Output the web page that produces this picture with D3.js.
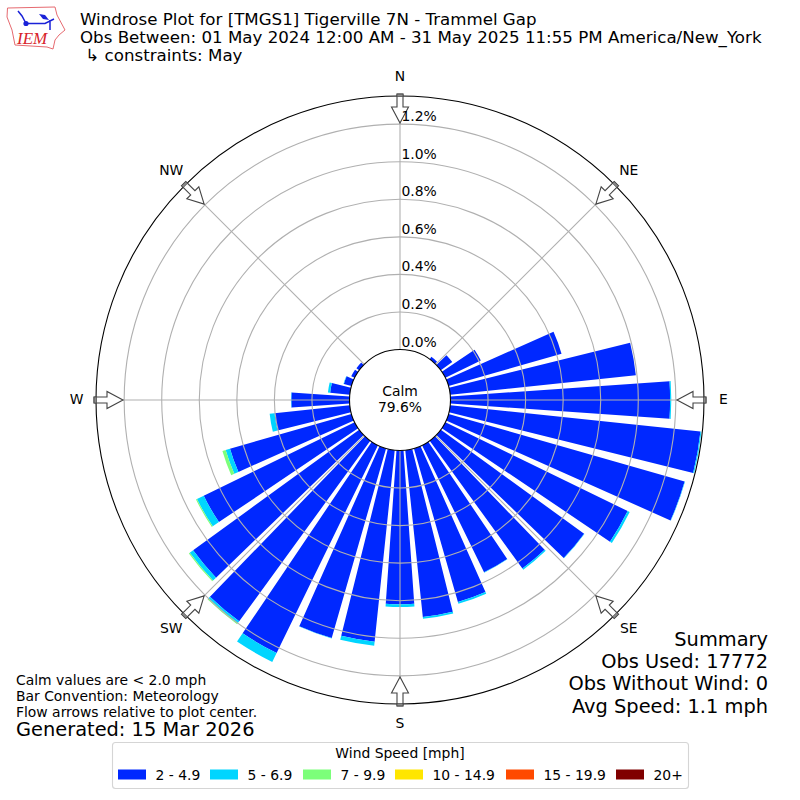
<!DOCTYPE html>
<html>
<head>
<meta charset="utf-8">
<script src="https://cdn.jsdelivr.net/npm/d3@7"></script>
<style>
  html, body { margin: 0; padding: 0; background: #fff; }
  text { font-family: "DejaVu Sans", sans-serif; fill: #000; }
</style>
</head>
<body>
<div id="wrapper"></div>
<script>
// wind direction in degrees, one bar every 10 degrees
const directions = [10, 20, 30, 40, 50, 60, 70, 80, 90, 100, 110, 120, 130, 140, 150, 160, 170, 180,
  190, 200, 210, 220, 230, 240, 250, 260, 270, 280, 290, 300, 310, 320, 330, 340, 350, 360];

// percent of observations per direction, one list per speed bin
const speed2to5 = [0, 0, 0, 0.015, 0.075, 0.21, 0.626, 0.994, 1.170, 1.340, 1.308, 1.080, 0.943, 0.840, 0.752, 0.850, 0.893, 0.819,
  1.025, 1.050, 1.230, 1.188, 1.093, 0.894, 0.673, 0.403, 0.310, 0.105, 0.042, 0.02, 0.018, 0, 0, 0, 0, 0];
const speed5to7 = [0, 0, 0, 0, 0, 0, 0, 0, 0.006, 0.005, 0.002, 0.012, 0.002, 0.008, 0.002, 0.010, 0.010, 0.015,
  0.022, 0.002, 0.053, 0.013, 0.022, 0.040, 0.024, 0.026, 0.002, 0.012, 0.002, 0, 0, 0, 0, 0, 0, 0];
const speed7to10 = [0, 0, 0, 0, 0, 0, 0, 0, 0, 0, 0, 0, 0, 0, 0, 0, 0, 0,
  0, 0, 0, 0.006, 0.006, 0.006, 0.018, 0, 0, 0, 0, 0, 0, 0, 0, 0, 0, 0];

const legendLabels = ['2 - 4.9', '5 - 6.9', '7 - 9.9', '10 - 14.9', '15 - 19.9', '20+'];
const legendColors = ['#0028ff', '#00d5ff', '#7cff7a', '#ffe600', '#ff4a00', '#800000'];

const radialTicks = [0, 0.2, 0.4, 0.6, 0.8, 1.0, 1.2];
const compass = [['N', 0], ['NE', 45], ['E', 90], ['SE', 135], ['S', 180], ['SW', 225], ['W', 270], ['NW', 315]];

const titleLines = ['Windrose Plot for [TMGS1] Tigerville 7N - Trammel Gap',
  'Obs Between: 01 May 2024 12:00 AM - 31 May 2025 11:55 PM America/New_York',
  ' \u21b3 constraints: May'];
const summaryLines = ['Summary', 'Obs Used: 17772', 'Obs Without Wind: 0', 'Avg Speed: 1.1 mph'];
const noteLines = ['Calm values are < 2.0 mph', 'Bar Convention: Meteorology', 'Flow arrows relative to plot center.'];

const dimensions = { width: 800, height: 800, cx: 400, cy: 400, inner: 50.5, outer: 304 };

const svg = d3.select('#wrapper').append('svg')
  .attr('width', dimensions.width)
  .attr('height', dimensions.height)
  .style('display', 'block');

const rScale = d3.scaleLinear().domain([0, 1.35]).range([dimensions.inner, dimensions.outer]);
const toRad = d => d * Math.PI / 180;

// table for d3.stack: one row per direction
const rows = directions.map((dir, i) => ({ dir, a: speed2to5[i], b: speed5to7[i], c: speed7to10[i] }));
const stacked = d3.stack().keys(['a', 'b', 'c'])(rows);

const polar = svg.append('g').attr('transform', `translate(${dimensions.cx},${dimensions.cy})`);

// bars sit under the grid, as they do in the reference
const arc = d3.arc();
const barWidth = 8;
stacked.forEach((layer, k) => {
  polar.append('g').selectAll('path')
    .data(layer.filter(d => d[1] > d[0]))
    .join('path')
    .attr('fill', legendColors[k])
    .attr('d', d => arc({
      innerRadius: rScale(d[0]),
      outerRadius: rScale(d[1]),
      startAngle: toRad(d.data.dir - barWidth / 2),
      endAngle: toRad(d.data.dir + barWidth / 2),
    }));
});

// grid
const grid = polar.append('g').attr('fill', 'none').attr('stroke', '#b0b0b0').attr('stroke-width', 1.1);
grid.selectAll('circle').data(radialTicks.slice(1)).join('circle').attr('r', d => rScale(d));
grid.selectAll('line').data(compass).join('line')
  .attr('x1', d => rScale(0) * Math.sin(toRad(d[1])))
  .attr('y1', d => -rScale(0) * Math.cos(toRad(d[1])))
  .attr('x2', d => dimensions.outer * Math.sin(toRad(d[1])))
  .attr('y2', d => -dimensions.outer * Math.cos(toRad(d[1])));

// spines
polar.append('circle').attr('r', dimensions.outer).attr('fill', 'none').attr('stroke', '#000').attr('stroke-width', 1.1);
polar.append('circle').attr('r', dimensions.inner).attr('fill', '#fff').attr('stroke', '#000').attr('stroke-width', 1.1);

// flow arrows, tail on the outer spine and tip pointing at the center
const arrow = polar.selectAll('.arrow').data(compass).join('g')
  .attr('class', 'arrow')
  .attr('transform', d => `rotate(${d[1]})`);
arrow.append('path')
  .attr('d', 'M0,-277 L8.5,-293 L3,-293 L3,-306 L-3,-306 L-3,-293 L-8.5,-293 Z')
  .attr('fill', '#fff')
  .attr('stroke', '#444')
  .attr('stroke-width', 1.1)
  .attr('stroke-linejoin', 'miter');
arrow.append('rect')
  .attr('x', -3).attr('y', -306).attr('width', 6).attr('height', 2.5)
  .attr('fill', '#888').attr('stroke', '#444').attr('stroke-width', 0.7);

// radial tick labels go over the arrows
polar.selectAll('.rlabel').data(radialTicks).join('text')
  .attr('class', 'rlabel')
  .attr('x', 1.5)
  .attr('y', d => -rScale(d) - 3)
  .attr('font-size', 13.9)
  .text(d => d.toFixed(1) + '%');

// compass labels
polar.selectAll('.dirlabel').data(compass).join('text')
  .attr('class', 'dirlabel')
  .attr('x', d => 323.5 * Math.sin(toRad(d[1])))
  .attr('y', d => -323.5 * Math.cos(toRad(d[1])) - 1)
  .attr('text-anchor', 'middle')
  .attr('dominant-baseline', 'central')
  .attr('font-size', 13.9)
  .text(d => d[0]);

// center text
polar.append('text').attr('text-anchor', 'middle').attr('y', -4).attr('font-size', 13.9).text('Calm');
polar.append('text').attr('text-anchor', 'middle').attr('y', 12).attr('font-size', 13.9).text('79.6%');

// title
svg.append('g').selectAll('text').data(titleLines).join('text')
  .attr('x', 80)
  .attr('y', (d, i) => [25, 43, 61][i])
  .attr('font-size', 16.67)
  .style('white-space', 'pre')
  .text(d => d);

// summary block
svg.append('g').selectAll('text').data(summaryLines).join('text')
  .attr('x', 768)
  .attr('y', (d, i) => 646 + i * 22.2)
  .attr('text-anchor', 'end')
  .attr('font-size', 19.4)
  .text(d => d);

// notes
svg.append('g').selectAll('text').data(noteLines).join('text')
  .attr('x', 16)
  .attr('y', (d, i) => 685 + i * 16)
  .attr('font-size', 13.9)
  .text(d => d);
svg.append('text').attr('x', 16).attr('y', 736).attr('font-size', 19.4).text('Generated: 15 Mar 2026');

// legend
const legend = svg.append('g');
legend.append('rect')
  .attr('x', 112.5).attr('y', 742.5).attr('width', 576).attr('height', 46).attr('rx', 3)
  .attr('fill', '#fff').attr('stroke', '#d5d5d5').attr('stroke-width', 1.1);
legend.append('text').attr('x', 400).attr('y', 758).attr('text-anchor', 'middle').attr('font-size', 13.9).text('Wind Speed [mph]');
const swatchX = [118, 210, 303, 395, 506, 616];
legendLabels.forEach((label, i) => {
  legend.append('rect').attr('x', swatchX[i]).attr('y', 769.5).attr('width', 28).attr('height', 10).attr('fill', legendColors[i]);
  legend.append('text').attr('x', swatchX[i] + 37.5).attr('y', 780).attr('font-size', 13.9).text(label);
});

// IEM logo, Iowa outline with the network sketch
const logo = svg.append('g');
logo.append('path')
  .attr('d', 'M7.5,8 L55,7 L57,15 L65,30 L59,35 L55,40 L53,49 L47,47 L15,45 L12,30 L7,17 Z')
  .attr('fill', '#fff').attr('stroke', '#e66a70').attr('stroke-width', 1);
logo.append('path')
  .attr('d', 'M26,23.5 L45,23.5 L54,19 M18,11 L22,16 L26,23.5 M50,20 L50,30')
  .attr('fill', 'none').attr('stroke', '#1a22d8').attr('stroke-width', 1.5);
logo.append('path').attr('d', 'M39,14 L45,15 L49,20 L43,19 Z').attr('fill', '#1a22d8');
logo.append('circle').attr('cx', 26).attr('cy', 23.5).attr('r', 2.6).attr('fill', '#1a22d8');
logo.append('text')
  .attr('x', 17).attr('y', 44)
  .attr('font-size', 17)
  .style('font-family', '"Liberation Serif", serif')
  .style('font-style', 'italic')
  .style('fill', '#d8232a')
  .text('IEM');
</script>
</body>
</html>
